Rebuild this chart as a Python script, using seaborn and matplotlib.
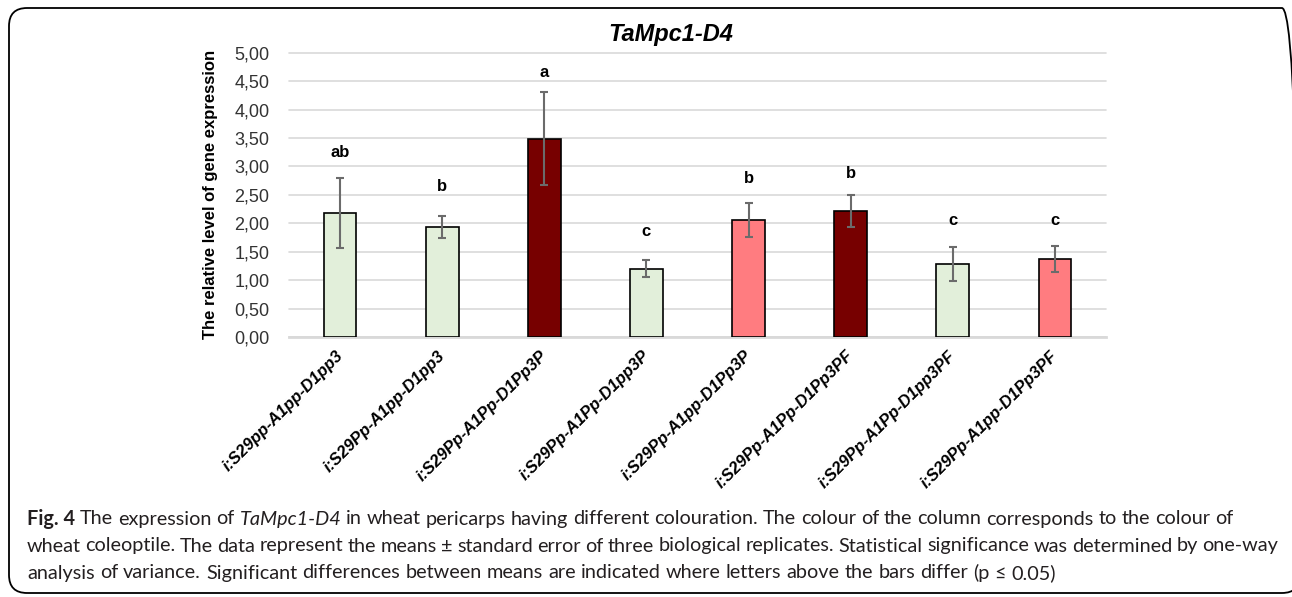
import matplotlib
matplotlib.use("Agg")
import matplotlib.pyplot as plt
import matplotlib.font_manager as fm
from matplotlib.patches import FancyBboxPatch
from matplotlib.transforms import ScaledTranslation
import seaborn as sns
import pandas as pd

# ---------------- data ----------------
genotypes = [
    "i:S29pp-A1pp-D1pp3",
    "i:S29Pp-A1pp-D1pp3",
    "i:S29Pp-A1Pp-D1Pp3P",
    "i:S29Pp-A1Pp-D1pp3P",
    "i:S29Pp-A1pp-D1Pp3P",
    "i:S29Pp-A1Pp-D1Pp3PF",
    "i:S29Pp-A1Pp-D1pp3PF",
    "i:S29Pp-A1pp-D1Pp3PF",
]
expression = [2.18, 1.93, 3.49, 1.20, 2.05, 2.21, 1.29, 1.37]
std_error = [0.62, 0.19, 0.82, 0.15, 0.30, 0.28, 0.30, 0.23]
sig_letters = ["ab", "b", "a", "c", "b", "b", "c", "c"]
letter_y = [3.24, 2.65, 4.65, 1.86, 2.78, 2.88, 2.05, 2.05]
bar_colors = ["#E2EFDA", "#E2EFDA", "#770000", "#E2EFDA",
              "#FF7C80", "#770000", "#E2EFDA", "#FF7C80"]
y_ticks = [0, 0.5, 1, 1.5, 2, 2.5, 3, 3.5, 4, 4.5, 5]
title = "TaMpc1-D4"
y_label = "The relative level of gene expression"

df = pd.DataFrame({"genotype": genotypes, "expression": expression})

# ---------------- style ----------------
sns.set_theme(style="white")
plt.rcParams["font.family"] = ["Liberation Sans", "DejaVu Sans"]

W, H = 1292, 597
fig = plt.figure(figsize=(W / 100, H / 100), dpi=100)

ax_l, ax_r, ax_t, ax_b = 289, 1106, 52.7, 337
ax = fig.add_axes([ax_l / W, 1 - ax_b / H, (ax_r - ax_l) / W, (ax_b - ax_t) / H])

sns.barplot(data=df, x="genotype", y="expression", hue="genotype",
            palette=bar_colors, saturation=1, legend=False, width=0.32,
            edgecolor="black", linewidth=1.2, errorbar=None, ax=ax, zorder=3)
ax.errorbar(range(len(genotypes)), expression, yerr=std_error, fmt="none",
            ecolor="#6b6b6b", elinewidth=1.5, capsize=3.2, capthick=1.5, zorder=4)

for i, (lab, yy) in enumerate(zip(sig_letters, letter_y)):
    ax.text(i, yy, lab, ha="center", va="center", fontsize=12,
            fontweight="bold", color="black", zorder=5)

ax.set_xlim(-0.5, len(genotypes) - 0.5)
ax.set_ylim(0, 5)
ax.set_yticks(y_ticks)
ax.set_yticklabels([f"{v:.2f}".replace(".", ",") for v in y_ticks],
                   fontsize=13, color="#333333")
ax.yaxis.grid(True, color="#D9D9D9", linewidth=1.2, zorder=0)
ax.set_axisbelow(True)
for gl in ax.get_ygridlines():
    gl.set_clip_on(False)
for s in ["top", "right", "left"]:
    ax.spines[s].set_visible(False)
ax.spines["bottom"].set_color("#D9D9D9")
ax.spines["bottom"].set_linewidth(2)
ax.tick_params(axis="y", length=0, pad=14)
ax.tick_params(axis="x", length=0, pad=8)
ax.set_xlabel("")
ax.set_ylabel(y_label, fontsize=12, fontweight="bold", color="black", labelpad=12)
ax.set_xticks(range(len(genotypes)))
ax.set_xticklabels(genotypes, rotation=45, ha="right", va="top",
                   rotation_mode="anchor", fontsize=12, fontweight="bold",
                   fontstyle="italic", color="black")
off = ScaledTranslation(-0.05, 0.0, fig.dpi_scale_trans)
for lbl in ax.get_xticklabels():
    lbl.set_transform(lbl.get_transform() + off)

fig.text(671 / W, 1 - 34 / H, title, ha="center", va="center", fontsize=17,
         fontweight="bold", fontstyle="italic", color="black")

# ---------------- frame ----------------
frame = FancyBboxPatch((9 / W, 1 - 593 / H), (1300 - 9) / W, (593 - 8) / H,
                       boxstyle="round,pad=0,rounding_size=0.014",
                       transform=fig.transFigure, fill=False,
                       edgecolor="black", linewidth=1.3, mutation_aspect=W / H)
fig.add_artist(frame)

# ---------------- caption ----------------
names = {f.name for f in fm.fontManager.ttflist}
cap_font = "Liberation Sans Narrow" if "Liberation Sans Narrow" in names else "Lato"
cap_color = "#231F20"

line1 = [("Fig. 4", "bold", "normal")] + [(w, "normal", "normal") for w in "The expression of".split()] + \
        [("TaMpc1-D4", "normal", "italic")] + \
        [(w, "normal", "normal") for w in "in wheat pericarps having different colouration. The colour of the column corresponds to the colour of".split()]
line2 = [(w, "normal", "normal") for w in "wheat coleoptile. The data represent the means ± standard error of three biological replicates. Statistical significance was determined by one-way".split()]
line3 = [(w, "normal", "normal") for w in "analysis of variance. Significant differences between means are indicated where letters above the bars differ (p ≤ 0.05)".split()]

renderer = fig.canvas.get_renderer()


def measure(word, weight, style, size):
    t = fig.text(0, 0, word, fontsize=size, fontweight=weight, fontstyle=style,
                 family=[cap_font, "DejaVu Sans"])
    w = t.get_window_extent(renderer).width
    t.remove()
    return w


x0 = 27
# fit the font size so that the unjustified last line has the reference width
ref_size = 12.0
ref_line3 = measure(" ".join(w for w, _, _ in line3), "normal", "normal", ref_size)
cap_size = ref_size * (1055 - x0) / ref_line3

space_w = measure("a b", "normal", "normal", cap_size) - measure("ab", "normal", "normal", cap_size)

cap_lines = [(line1, 519, 1233, True), (line2, 546, 1278, True), (line3, 573, None, False)]
for words, ypix, xend, justify in cap_lines:
    widths = [measure(w, wt, st, cap_size) for w, wt, st in words]
    if justify:
        gap = (xend - x0 - sum(widths)) / (len(words) - 1)
        gap = max(gap, space_w * 0.8)
    else:
        gap = space_w
    x = x0
    for (w, wt, st), ww in zip(words, widths):
        fig.text(x / W, 1 - ypix / H, w, ha="left", va="center", fontsize=cap_size,
                 fontweight=wt, fontstyle=st, color=cap_color,
                 family=[cap_font, "DejaVu Sans"])
        x += ww + gap

fig.savefig("out.png", dpi=100)
